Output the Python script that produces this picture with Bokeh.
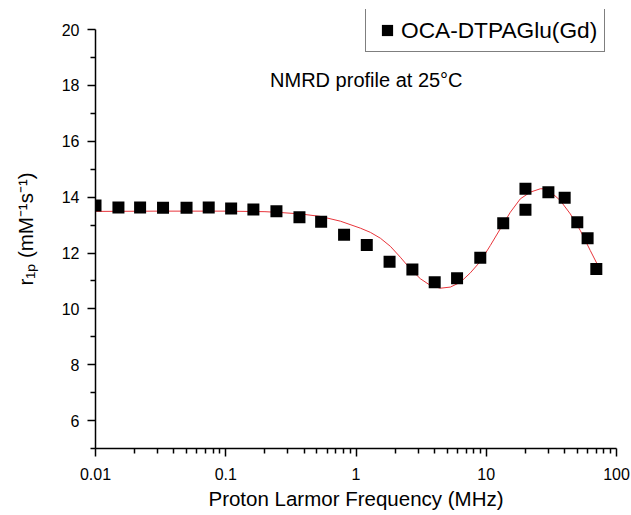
from bokeh.plotting import figure
from bokeh.models import (FixedTicker, CustomJSTickFormatter, Legend, LegendItem,
                          Label)
from bokeh.embed import file_html
from bokeh.resources import INLINE

# ---- data ----
freq_mhz = [0.01, 0.015, 0.022, 0.033, 0.05, 0.074, 0.11, 0.163, 0.245, 0.368,
            0.54, 0.81, 1.21, 1.81, 2.71, 4.02, 5.97, 9.0, 13.5, 20.0, 20.0,
            30.0, 40.0, 50.0, 60.0, 70.0]
r1p = [13.70, 13.63, 13.63, 13.62, 13.62, 13.63, 13.59, 13.56, 13.50, 13.28,
       13.12, 12.65, 12.29, 11.69, 11.41, 10.95, 11.10, 11.83, 13.07, 14.30,
       13.55, 14.18, 13.98, 13.10, 12.53, 11.43]

fit_freq = [0.01, 0.03, 0.1, 0.2, 0.263, 0.374, 0.533, 0.759, 1.081, 1.289,
            1.539, 1.836, 2.19, 2.614, 3.119, 3.722, 4.443, 5.30, 6.32, 7.55,
            9.01, 10.75, 12.83, 15.31, 18.27, 21.8, 26.0, 28.4, 31.0, 37.0,
            44.2, 52.7, 62.9, 70.8]
fit_r1p = [13.49, 13.50, 13.50, 13.48, 13.45, 13.40, 13.31, 13.14, 12.89, 12.74,
           12.53, 12.24, 11.85, 11.43, 11.08, 10.84, 10.74, 10.78, 10.95, 11.29,
           11.70, 12.27, 12.87, 13.46, 13.94, 14.18, 14.30, 14.30, 14.20, 13.88,
           13.40, 12.81, 12.09, 11.62]

x_major = [0.01, 0.1, 1, 10, 100]
x_minor = [m * d for d in [0.01, 0.1, 1, 10] for m in range(2, 10)]
y_major = [6, 8, 10, 12, 14, 16, 18, 20]
y_minor = [5, 7, 9, 11, 13, 15, 17, 19]
y_axis_bounds = (5, 20)

FONT = "Liberation Sans"

# y range extends a little above 20 so the legend box (which sits above the
# top of the y axis in the reference) stays inside the plotting frame
p = figure(width=631, height=515, x_axis_type="log", x_range=(0.01, 100),
           y_range=(5, 20.72), output_backend="svg", toolbar_location=None,
           min_border_left=95, min_border_right=15, min_border_top=9,
           min_border_bottom=67)
p.outline_line_color = None
p.xgrid.visible = False
p.ygrid.visible = False
p.background_fill_color = "white"
p.border_fill_color = "white"

fit = p.line(fit_freq, fit_r1p, line_color="#e8353b", line_width=1)
pts = p.scatter(freq_mhz, r1p, marker="square", size=12, fill_color="black",
                line_color="black", line_width=0)

for ax in (p.xaxis[0], p.yaxis[0]):
    ax.axis_line_width = 1.5
    ax.major_tick_line_width = 1.5
    ax.minor_tick_line_width = 1.5
    ax.major_tick_in = 0
    ax.major_tick_out = 8
    ax.minor_tick_in = 0
    ax.minor_tick_out = 5
    ax.major_label_text_font = FONT
    ax.major_label_text_font_size = "16px"
    ax.major_label_text_color = "black"
    ax.axis_label_text_font = FONT
    ax.axis_label_text_font_size = "20.5px"
    ax.axis_label_text_font_style = "normal"
    ax.axis_label_text_color = "black"
    ax.axis_line_color = "black"
    ax.major_tick_line_color = "black"
    ax.minor_tick_line_color = "black"

p.xaxis.ticker = FixedTicker(ticks=x_major, minor_ticks=x_minor)
p.xaxis.formatter = CustomJSTickFormatter(code="return String(tick)")
p.xaxis.axis_label = "Proton Larmor Frequency (MHz)"
p.xaxis.major_label_standoff = 11
p.xaxis.axis_label_standoff = 4

p.yaxis.ticker = FixedTicker(ticks=y_major, minor_ticks=y_minor)
p.yaxis.bounds = y_axis_bounds
p.yaxis.axis_label = "r\u2081\u209a (mM\u207b\u00b9s\u207b\u00b9)"
p.yaxis.major_label_standoff = 8
p.yaxis.axis_label_standoff = 22

p.add_layout(Label(x=1.2, y=18.2, text="NMRD profile at 25\u00b0C",
                   text_font=FONT, text_font_size="20px", text_align="center",
                   text_baseline="middle", text_color="black"))

legend = Legend(items=[LegendItem(label="OCA-DTPAGlu(Gd)", renderers=[pts])],
                location=(270, 396), glyph_width=28, glyph_height=28,
                padding=7, label_standoff=0, spacing=0, margin=0,
                label_text_font=FONT, label_text_font_size="22.7px",
                label_text_color="black",
                border_line_color="black", border_line_width=1.2,
                background_fill_color="white", background_fill_alpha=1)
p.add_layout(legend)

open("out.html", "w").write(file_html(p, INLINE))
